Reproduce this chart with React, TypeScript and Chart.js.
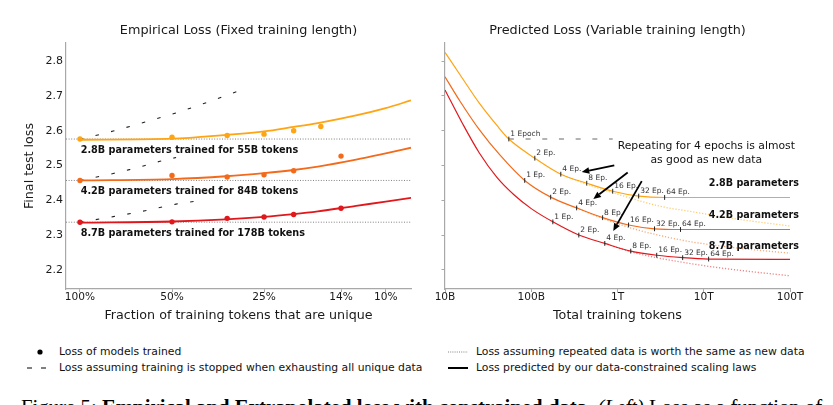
import { useEffect, useRef } from 'react';
import { Chart, registerables } from 'chart.js';

Chart.register(...registerables);

const FONT = '"DejaVu Sans"';
Chart.defaults.font.family = FONT;

// ---- shared model info ----
const modelNames = ['2.8B', '4.2B', '8.7B'];
const uniqueTokensB = [55, 84, 178];
const modelColors = ['#ffa412', '#f36a1a', '#e0181c'];
const dottedColors = ['rgba(255,176,40,0.65)', 'rgba(243,112,34,0.6)', 'rgba(226,30,30,0.55)'];

// ---- shared y axis ----
const yMin = 2.145;
const yMax = 2.852;
const yTicks = [2.2, 2.3, 2.4, 2.5, 2.6, 2.7, 2.8];

// ---- left panel: empirical loss vs fraction of unique tokens ----
const fracTicks = [100, 50, 25, 14, 10];
const fracTickLabels = ['100%', '50%', '25%', '14%', '10%'];
const repMin = 0.9;
const repMax = 12.1;

// unique-token fraction (%) of each trained model and its final loss
const uniqueFrac28 = [100, 50, 33, 25, 20, 16.3];
const uniqueFrac42 = [100, 50, 33, 25, 20, 14];
const uniqueFrac87 = [100, 50, 33, 25, 20, 14];
const trainedLoss28 = [2.576, 2.581, 2.586, 2.590, 2.600, 2.612];
const trainedLoss42 = [2.457, 2.471, 2.467, 2.473, 2.485, 2.527];
const trainedLoss87 = [2.337, 2.338, 2.348, 2.352, 2.359, 2.377];

// fitted curves (x = repetitions of the unique data)
const fitReps = [1, 2, 3, 4, 5, 6, 8, 10, 12.1];
const fitLoss28 = [2.574, 2.577, 2.588, 2.598, 2.611, 2.622, 2.644, 2.665, 2.687];
const fitLoss42 = [2.457, 2.461, 2.469, 2.478, 2.487, 2.497, 2.517, 2.535, 2.551];
const fitLoss87 = [2.336, 2.339, 2.345, 2.352, 2.360, 2.368, 2.384, 2.396, 2.407];

// loss when training stops once the unique data is exhausted
const stopReps28 = [1, 1.285, 1.633, 2.045, 2.596, 3.255];
const stopLoss28 = [2.575, 2.599, 2.625, 2.650, 2.681, 2.712];
const stopReps42 = [1, 1.285, 1.45, 1.633, 1.827, 2.062];
const stopLoss42 = [2.457, 2.477, 2.488, 2.500, 2.512, 2.523];
const stopReps87 = [1, 1.285, 1.633, 2.062, 2.367];
const stopLoss87 = [2.337, 2.353, 2.370, 2.389, 2.397];

// ---- right panel: predicted loss vs total training tokens (billions) ----
const tokenTicks = [10, 100, 1000, 10000, 100000];
const tokenTickLabels = ['10B', '100B', '1T', '10T', '100T'];
const epochCounts = [1, 2, 4, 8, 16, 32, 64];

const warmTokens28 = [10, 15, 25, 40];
const warmLoss28 = [2.825, 2.760, 2.679, 2.615];
const warmTokens42 = [10, 15, 25, 43];
const warmLoss42 = [2.755, 2.684, 2.603, 2.531];
const warmTokens87 = [10, 16, 25, 40, 63, 100];
const warmLoss87 = [2.717, 2.620, 2.536, 2.466, 2.416, 2.376];

const epochLoss28 = [2.576, 2.521, 2.475, 2.449, 2.426, 2.412, 2.408];
const epochLoss42 = [2.457, 2.409, 2.378, 2.350, 2.329, 2.318, 2.316];
const epochLoss87 = [2.338, 2.300, 2.276, 2.254, 2.242, 2.235, 2.231];
const plateauLoss = [2.408, 2.316, 2.230];

const newDataTokens28 = [220, 440, 900, 3100, 7000, 26000, 100000];
const newDataLoss28 = [2.475, 2.446, 2.421, 2.383, 2.368, 2.345, 2.326];
const newDataTokens42 = [336, 672, 1400, 3200, 7000, 26000, 100000];
const newDataLoss42 = [2.378, 2.348, 2.321, 2.298, 2.281, 2.262, 2.248];
const newDataTokens87 = [712, 1424, 2850, 10800, 30000, 100000];
const newDataLoss87 = [2.276, 2.252, 2.235, 2.211, 2.197, 2.183];

const stopLineTokens = [55, 880];
const stopLineLoss = 2.576;

const noteLines = ['Repeating for 4 epochs is almost', 'as good as new data'];
const noteTokens = 10700;
const noteLoss = [2.554, 2.516];
const arrowFrom = [[918, 2.500], [1313, 2.480], [1910, 2.455]];
const arrowTo = [[385, 2.481], [525, 2.404], [893, 2.312]];
const modelLabelLoss = [2.447, 2.355, 2.268];

const uniqueFracs = [uniqueFrac28, uniqueFrac42, uniqueFrac87];
const trainedLoss = [trainedLoss28, trainedLoss42, trainedLoss87];
const fitLoss = [fitLoss28, fitLoss42, fitLoss87];
const stopReps = [stopReps28, stopReps42, stopReps87];
const stopLoss = [stopLoss28, stopLoss42, stopLoss87];
const warmTokens = [warmTokens28, warmTokens42, warmTokens87];
const warmLoss = [warmLoss28, warmLoss42, warmLoss87];
const epochLoss = [epochLoss28, epochLoss42, epochLoss87];
const newDataTokens = [newDataTokens28, newDataTokens42, newDataTokens87];
const newDataLoss = [newDataLoss28, newDataLoss42, newDataLoss87];

const pts = (xs: number[], ys: number[]) => xs.map((x, i) => ({ x, y: ys[i] }));

const TEXT = '#1a1a1a';
const AXIS = '#a8a8a8';

function yAxis(width: number, withLabels: boolean, withTitle: boolean) {
  return {
    type: 'linear',
    min: yMin,
    max: yMax,
    afterBuildTicks: (s: any) => {
      s.ticks = yTicks.map((v) => ({ value: v }));
    },
    afterFit: (s: any) => {
      s.width = width;
    },
    ticks: {
      display: withLabels,
      font: { size: 11, lineHeight: 1 },
      color: TEXT,
      padding: 3,
      callback: (v: number) => v.toFixed(1),
    },
    grid: { display: true, drawOnChartArea: false, drawTicks: !withLabels, tickLength: 3.5, color: AXIS },
    border: { display: true, color: AXIS, width: 1.2 },
    title: {
      display: withTitle,
      text: 'Final test loss',
      font: { size: 12.7, lineHeight: 1.2 },
      color: TEXT,
      padding: { top: 22.4, bottom: 0 },
    },
  };
}

function xAxis(min: number, max: number, values: number[], labels: string[], title: string) {
  return {
    type: 'logarithmic',
    min,
    max,
    afterBuildTicks: (s: any) => {
      s.ticks = values.map((v) => ({ value: v }));
    },
    afterFit: (s: any) => {
      s.height = 51;
    },
    ticks: {
      autoSkip: false,
      maxRotation: 0,
      font: { size: 10.6, lineHeight: 1 },
      color: TEXT,
      padding: 0,
      callback: (_v: number, i: number) => labels[i],
    },
    grid: { display: true, drawOnChartArea: false, drawTicks: true, tickLength: 3, color: AXIS },
    border: { display: true, color: AXIS, width: 1.2 },
    title: {
      display: true,
      text: title,
      font: { size: 12.7, lineHeight: 1.2 },
      color: TEXT,
      padding: { top: 0, bottom: 16.4 },
    },
  };
}

function titlePlugin(text: string) {
  return {
    display: true,
    text,
    fullSize: false,
    color: TEXT,
    font: { size: 12.8, weight: 'normal', lineHeight: 1.2 },
    padding: { top: 23, bottom: 4.64 },
  };
}

function leftConfig(): any {
  const datasets: any[] = [];
  modelNames.forEach((_n, m) => {
    datasets.push({
      data: pts(uniqueFracs[m].map((f) => 100 / f), trainedLoss[m]),
      showLine: false,
      pointRadius: 2.7,
      pointBackgroundColor: modelColors[m],
      pointBorderWidth: 0,
      order: 0,
    });
    datasets.push({
      data: pts(fitReps, fitLoss[m]),
      borderColor: modelColors[m],
      borderWidth: 1.8,
      pointRadius: 0,
      cubicInterpolationMode: 'monotone',
      order: 1,
    });
    datasets.push({
      data: pts(stopReps[m], stopLoss[m]),
      borderColor: '#222',
      borderWidth: 1.1,
      borderDash: [3.5, 12.5],
      pointRadius: 0,
      cubicInterpolationMode: 'monotone',
      order: 2,
    });
    datasets.push({
      data: pts([repMin, repMax], [trainedLoss[m][0], trainedLoss[m][0]]),
      borderColor: '#808080',
      borderWidth: 1,
      borderDash: [1, 1.6],
      pointRadius: 0,
      order: 3,
    });
  });

  const labels = {
    id: 'runLabels',
    afterDatasetsDraw(chart: any) {
      const { ctx, scales } = chart;
      ctx.save();
      ctx.font = `bold 9.7px ${FONT}`;
      ctx.fillStyle = '#111';
      ctx.textAlign = 'left';
      ctx.textBaseline = 'middle';
      modelNames.forEach((name, m) => {
        const px = scales.x.getPixelForValue(1) + 0.7;
        const py = scales.y.getPixelForValue(trainedLoss[m][0]) + 11.5;
        ctx.fillText(`${name} parameters trained for ${uniqueTokensB[m]}B tokens`, px, py);
      });
      ctx.restore();
    },
  };

  return {
    type: 'line',
    data: { datasets },
    options: {
      animation: false,
      responsive: false,
      maintainAspectRatio: false,
      events: [],
      layout: { padding: { left: 0, right: 9, top: 0, bottom: 0 } },
      plugins: {
        legend: { display: false },
        tooltip: { enabled: false },
        title: titlePlugin('Empirical Loss (Fixed training length)'),
      },
      scales: {
        x: xAxis(repMin, repMax, fracTicks.map((f) => 100 / f), fracTickLabels, 'Fraction of training tokens that are unique'),
        y: yAxis(66, true, true),
      },
    },
    plugins: [labels],
  };
}

function drawArrow(ctx: CanvasRenderingContext2D, x1: number, y1: number, x2: number, y2: number) {
  const a = Math.atan2(y2 - y1, x2 - x1);
  const head = 7.5;
  const half = 3.3;
  const bx = x2 - head * Math.cos(a);
  const by = y2 - head * Math.sin(a);
  ctx.beginPath();
  ctx.moveTo(x1, y1);
  ctx.lineTo(bx, by);
  ctx.stroke();
  ctx.beginPath();
  ctx.moveTo(x2, y2);
  ctx.lineTo(bx + half * Math.sin(a), by - half * Math.cos(a));
  ctx.lineTo(bx - half * Math.sin(a), by + half * Math.cos(a));
  ctx.closePath();
  ctx.fill();
}

function rightConfig(): any {
  const datasets: any[] = [];
  modelNames.forEach((_n, m) => {
    const epochTokens = epochCounts.map((e) => e * uniqueTokensB[m]);
    datasets.push({
      data: pts(epochTokens, epochLoss[m]),
      showLine: false,
      pointStyle: 'line',
      pointRotation: 90,
      pointRadius: 2.4,
      pointBorderColor: '#222',
      pointBorderWidth: 1,
      order: 0,
    });
    datasets.push({
      data: pts(
        [...warmTokens[m], ...epochTokens, tokenTicks[tokenTicks.length - 1]],
        [...warmLoss[m], ...epochLoss[m], plateauLoss[m]]
      ),
      borderColor: modelColors[m],
      borderWidth: 1.2,
      pointRadius: 0,
      cubicInterpolationMode: 'monotone',
      order: 1,
    });
    datasets.push({
      data: pts(newDataTokens[m], newDataLoss[m]),
      borderColor: dottedColors[m],
      borderWidth: 1.3,
      borderDash: [1.2, 1.8],
      pointRadius: 0,
      cubicInterpolationMode: 'monotone',
      order: 2,
    });
  });
  datasets.push({
    data: pts(stopLineTokens, [stopLineLoss, stopLineLoss]),
    borderColor: '#9a9a9a',
    borderWidth: 1.5,
    borderDash: [5, 11.7],
    pointRadius: 0,
    order: 3,
  });

  const notes = {
    id: 'epochNotes',
    afterDatasetsDraw(chart: any) {
      const { ctx, scales, chartArea } = chart;
      const sx = scales.x;
      const sy = scales.y;
      ctx.save();
      // epoch labels next to each tick mark
      ctx.font = `7.5px ${FONT}`;
      ctx.fillStyle = '#333';
      ctx.textAlign = 'left';
      ctx.textBaseline = 'middle';
      modelNames.forEach((_n, m) => {
        epochCounts.forEach((e, k) => {
          const px = sx.getPixelForValue(e * uniqueTokensB[m]);
          const py = sy.getPixelForValue(epochLoss[m][k]);
          const txt = e === 1 ? (m === 0 ? '1 Epoch' : '1 Ep.') : `${e} Ep.`;
          ctx.fillText(txt, px + 1.5, py - 5);
        });
      });
      // model labels on the right
      ctx.font = `bold 9.6px ${FONT}`;
      ctx.fillStyle = '#111';
      ctx.textAlign = 'right';
      modelNames.forEach((name, m) => {
        ctx.fillText(`${name} parameters`, chartArea.right + 9, sy.getPixelForValue(modelLabelLoss[m]));
      });
      // note and arrows
      ctx.font = `10.8px ${FONT}`;
      ctx.textAlign = 'center';
      noteLines.forEach((line, i) => {
        ctx.fillText(line, sx.getPixelForValue(noteTokens), sy.getPixelForValue(noteLoss[i]));
      });
      ctx.strokeStyle = '#000';
      ctx.fillStyle = '#000';
      ctx.lineWidth = 1.8;
      arrowFrom.forEach((from, i) => {
        drawArrow(
          ctx,
          sx.getPixelForValue(from[0]),
          sy.getPixelForValue(from[1]),
          sx.getPixelForValue(arrowTo[i][0]),
          sy.getPixelForValue(arrowTo[i][1])
        );
      });
      ctx.restore();
    },
  };

  return {
    type: 'line',
    data: { datasets },
    options: {
      animation: false,
      responsive: false,
      maintainAspectRatio: false,
      events: [],
      layout: { padding: { left: 0, right: 43, top: 0, bottom: 0 } },
      plugins: {
        legend: { display: false },
        tooltip: { enabled: false },
        title: titlePlugin('Predicted Loss (Variable training length)'),
      },
      scales: {
        x: xAxis(tokenTicks[0], tokenTicks[tokenTicks.length - 1], tokenTicks, tokenTickLabels, 'Total training tokens'),
        y: yAxis(25, false, false),
      },
    },
    plugins: [notes],
  };
}

const legendText: React.CSSProperties = {
  position: 'absolute',
  fontFamily: FONT,
  fontSize: 10.8,
  lineHeight: '14px',
  color: '#111',
  whiteSpace: 'nowrap',
};

export default function App() {
  const leftRef = useRef<HTMLCanvasElement>(null);
  const rightRef = useRef<HTMLCanvasElement>(null);

  useEffect(() => {
    const left = new Chart(leftRef.current as HTMLCanvasElement, leftConfig());
    const right = new Chart(rightRef.current as HTMLCanvasElement, rightConfig());
    return () => {
      left.destroy();
      right.destroy();
    };
  }, []);

  return (
    <div
      style={{
        position: 'fixed',
        left: 0,
        top: 0,
        width: 833,
        height: 405,
        overflow: 'hidden',
        background: '#fff',
      }}
    >
      <canvas
        ref={leftRef}
        width={420}
        height={340}
        style={{ position: 'absolute', left: 0, top: 0, width: 420, height: 340 }}
      />
      <canvas
        ref={rightRef}
        width={413}
        height={340}
        style={{ position: 'absolute', left: 420, top: 0, width: 413, height: 340 }}
      />
      <svg style={{ position: 'absolute', left: 0, top: 340 }} width={833} height={40}>
        <circle cx={40} cy={12} r={2.6} fill="#000" />
        <line x1={27} y1={28} x2={32} y2={28} stroke="#000" strokeWidth={1} />
        <line x1={41} y1={28} x2={46} y2={28} stroke="#000" strokeWidth={1} />
        <line x1={448} y1={12} x2={468} y2={12} stroke="#666" strokeWidth={0.8} strokeDasharray="1 1.2" />
        <line x1={448} y1={28} x2={468} y2={28} stroke="#000" strokeWidth={2} />
      </svg>
      <div style={{ ...legendText, left: 59, top: 345 }}>Loss of models trained</div>
      <div style={{ ...legendText, left: 59, top: 361 }}>
        Loss assuming training is stopped when exhausting all unique data
      </div>
      <div style={{ ...legendText, left: 476, top: 345 }}>
        Loss assuming repeated data is worth the same as new data
      </div>
      <div style={{ ...legendText, left: 476, top: 361 }}>
        Loss predicted by our data-constrained scaling laws
      </div>
      <div
        style={{
          position: 'absolute',
          left: 21,
          top: 397,
          fontFamily: '"Liberation Serif", serif',
          fontSize: 20.8,
          lineHeight: '20.8px',
          color: '#000',
          whiteSpace: 'nowrap',
        }}
      >
        Figure 5: <b>Empirical and Extrapolated loss with constrained data.</b> <i>(Left)</i> Loss as a function of
      </div>
    </div>
  );
}
